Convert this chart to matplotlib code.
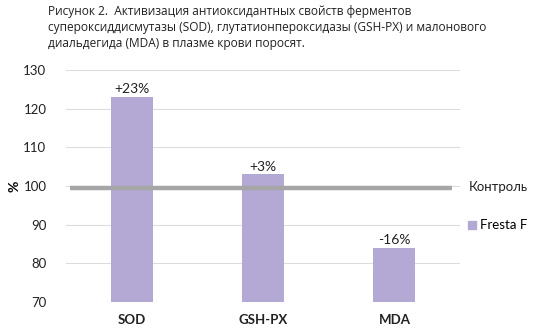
import matplotlib
matplotlib.use("Agg")
import matplotlib.pyplot as plt
from matplotlib.lines import Line2D

categories = ["SOD", "GSH-PX", "MDA"]
values = [123, 103, 84]
labels = ["+23%", "+3%", "-16%"]
control = 99.5
yticks = [70, 80, 90, 100, 110, 120, 130]

title = ("Рисунок 2.  Активизация антиоксидантных свойств ферментов\n"
         "супероксиддисмутазы (SOD), глутатионпероксидазы (GSH-PX) и малонового\n"
         "диальдегида (MDA) в плазме крови поросят.")

plt.rcParams["font.family"] = ["Lato", "DejaVu Sans"]

fig = plt.figure(figsize=(5.4, 3.3), dpi=100)
ax = fig.add_axes([0.122, 0.085, 0.730, 0.703])

bar_color = "#b3a9d4"
x = list(range(len(categories)))
ax.bar(x, values, width=0.32, color=bar_color, zorder=2)
for xi, v, lab in zip(x, values, labels):
    ax.text(xi, v + 0.4, lab, ha="center", va="bottom", fontsize=10, color="#222222")

ax.hlines(control, -0.47, 2.44, color="#a6a6a6", linewidth=3.2, zorder=3)

ax.set_xlim(-0.5, 2.5)
ax.set_ylim(70, 130)
ax.set_yticks(yticks)
ax.grid(axis="y", color="#dcdcdc", linewidth=0.8, zorder=0)
ax.set_xticks(x)
ax.set_xticklabels(categories, fontweight="bold", fontsize=9.5)
ax.tick_params(axis="both", length=0, colors="#222222")
ax.tick_params(axis="y", labelsize=9.5, pad=14)
ax.tick_params(axis="x", pad=9)
for s in ax.spines.values():
    s.set_visible(False)
ax.set_ylabel("%", fontsize=10, fontweight="bold", labelpad=2)

fig.text(0.089, 0.985, title, ha="left", va="top", fontsize=8.6,
         family=["Open Sans", "DejaVu Sans"], color="#222222", linespacing=1.3)

# legend
fig.text(0.868, 0.433, "Контроль", ha="left", va="center", fontsize=9.5, color="#222222")
handle = Line2D([], [], marker="s", linestyle="none", markersize=6,
                color=bar_color)
leg = ax.legend([handle], ["Fresta F"], loc="center left",
                bbox_to_anchor=(1.013, 0.33), frameon=False, fontsize=9.5,
                handletextpad=0.1, borderaxespad=0.0, borderpad=0.0,
                handlelength=1.0)

fig.savefig("out.png", dpi=100)
